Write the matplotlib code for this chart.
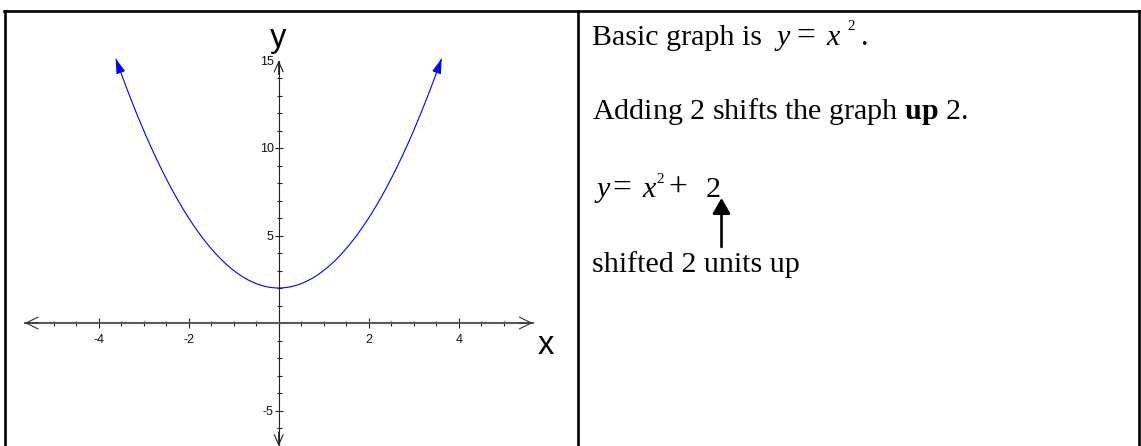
import numpy as np
import matplotlib
matplotlib.use("Agg")
import matplotlib.pyplot as plt
from matplotlib.ticker import FixedLocator, FixedFormatter, NullFormatter

# ---------------- data ----------------
shift = 2                       # y = x^2 + 2
curve_x_end = 3.62              # curve drawn for |x| <= 3.62 (ends near y = 15)
x_axis_range = (-5.64, 5.64)
y_axis_range = (-7.03, 15.0)
x_major_ticks = [-4, -2, 2, 4]
x_tick_labels = ["-4", "-2", "2", "4"]
x_minor_ticks = [-5, -4.5, -3.5, -3, -2.5, -1.5, -1, -0.5, 0, 0.5, 1, 1.5,
                 2.5, 3, 3.5, 4.5, 5]
y_major_ticks = [-5, 5, 10, 15]
y_tick_labels = ["-5", "5", "10", "15"]
y_minor_ticks = [-7, -6, -4, -3, -2, -1, 0, 1, 2, 3, 4, 6, 7, 8, 9, 11, 12, 13, 14]
x_label = "x"
y_label = "y"
line1_text = "Basic graph is"
line2 = r"Adding 2 shifts the graph $\mathbf{up}$ 2."
line4 = "shifted 2 units up"

# ---------------- style ----------------
plt.rcParams["mathtext.fontset"] = "custom"
plt.rcParams["mathtext.rm"] = "Liberation Serif"
plt.rcParams["mathtext.it"] = "Liberation Serif:italic"
plt.rcParams["mathtext.bf"] = "Liberation Serif:bold"
plt.rcParams["axes.unicode_minus"] = False

W, H = 1141, 446
fig = plt.figure(figsize=(W / 100, H / 100), dpi=100)

# pixel geometry of the graph panel
x0_px, ux = 278.7, 45.0
y0_px, uy = 323.0, 17.5
left_px, right_px, top_px, bot_px = 5.0, 577.0, 10.0, 446.0

ax = fig.add_axes([left_px / W, 1 - bot_px / H, (right_px - left_px) / W, (bot_px - top_px) / H])
ax.set_xlim((left_px - x0_px) / ux, (right_px - x0_px) / ux)
ax.set_ylim((y0_px - bot_px) / uy, (y0_px - top_px) / uy)
ax.patch.set_visible(False)
for s in ["top", "right"]:
    ax.spines[s].set_visible(False)
ax.spines["bottom"].set_position(("data", 0))
ax.spines["left"].set_position(("data", 0))
ax.spines["bottom"].set_bounds(*x_axis_range)
ax.spines["left"].set_bounds(*y_axis_range)
ax.spines["bottom"].set_color("#5a5a5a")
ax.spines["bottom"].set_linewidth(1.5)
ax.spines["left"].set_color("#222222")
ax.spines["left"].set_linewidth(0.8)

ax.xaxis.set_major_locator(FixedLocator(x_major_ticks))
ax.xaxis.set_major_formatter(FixedFormatter(x_tick_labels))
ax.xaxis.set_minor_locator(FixedLocator(x_minor_ticks))
ax.xaxis.set_minor_formatter(NullFormatter())
ax.yaxis.set_major_locator(FixedLocator(y_major_ticks))
ax.yaxis.set_major_formatter(FixedFormatter(y_tick_labels))
ax.yaxis.set_minor_locator(FixedLocator(y_minor_ticks))
ax.yaxis.set_minor_formatter(NullFormatter())

ax.tick_params(axis="x", which="major", direction="inout", length=7.2, width=0.8,
               color="#222222", pad=4.6, labelsize=9)
ax.tick_params(axis="x", which="minor", direction="inout", length=3.6, width=0.8,
               color="#222222")
ax.tick_params(axis="y", which="major", direction="inout", length=6.0, width=0.8,
               color="#222222", pad=0.5, labelsize=9)
ax.tick_params(axis="y", which="minor", direction="inout", length=3.6, width=0.8,
               color="#222222")
for lab in ax.get_xticklabels() + ax.get_yticklabels():
    lab.set_family("Liberation Sans")
    lab.set_color("#111111")
ax.yaxis.get_major_ticks()[-1].tick1line.set_visible(False)

# axis arrowheads (open chevrons)
def chevron(tip, back, hl, hw, color, lw):
    ax.annotate("", xy=tip, xytext=back,
                arrowprops=dict(arrowstyle=f"->,head_length={hl},head_width={hw}",
                                color=color, lw=lw, shrinkA=0, shrinkB=0,
                                mutation_scale=10),
                annotation_clip=False)

chevron((x_axis_range[0], 0), (x_axis_range[0] + 0.3, 0), 0.86, 0.43, "#333333", 0.8)
chevron((x_axis_range[1], 0), (x_axis_range[1] - 0.3, 0), 0.86, 0.43, "#333333", 0.8)
chevron((0, y_axis_range[1]), (0, y_axis_range[1] - 0.8), 0.72, 0.32, "#222222", 0.8)
chevron((0, y_axis_range[0]), (0, y_axis_range[0] + 0.8), 0.72, 0.32, "#222222", 0.8)

# the curve y = x^2 + shift
xs = np.linspace(-curve_x_end, curve_x_end, 500)
ys = xs ** 2 + shift
ax.plot(xs, ys, color="#0000ff", lw=0.8, solid_capstyle="butt")
for sgn in (-1, 1):
    xe = sgn * curve_x_end
    xb = sgn * (curve_x_end - 0.06)
    ax.annotate("", xy=(xe, xe ** 2 + shift), xytext=(xb, xb ** 2 + shift),
                arrowprops=dict(arrowstyle="-|>,head_length=0.9,head_width=0.28",
                                color="#0000ff", lw=0.8, shrinkA=0, shrinkB=0,
                                mutation_scale=10),
                annotation_clip=False)

# ---------------- overlay in pixel coordinates ----------------
ov = fig.add_axes([0, 0, 1, 1], zorder=5)
ov.set_xlim(0, W)
ov.set_ylim(H, 0)
ov.axis("off")
ov.patch.set_visible(False)

# axis letters
ov.text(278.5, 47, y_label, family="Liberation Sans", size=23.5, ha="center", va="baseline")
ov.text(545.5, 354, x_label, family="Liberation Sans", size=23.5, ha="center", va="baseline")

# table borders
bw = 1.9
ov.plot([3.5, 1139.5], [10.5, 10.5], color="black", lw=bw, solid_capstyle="projecting")
ov.plot([4.8, 4.8], [10.5, H + 2], color="black", lw=bw)
ov.plot([577.8, 577.8], [10.5, H + 2], color="black", lw=bw)
ov.plot([1139.2, 1139.2], [10.5, H + 2], color="black", lw=bw)

# right panel text
FS = 21.6
tfont = dict(family="Liberation Serif", size=FS, va="baseline", ha="left")
ov.text(592, 45, line1_text, **tfont)
ov.text(592, 119, line2, **tfont)
ov.text(592, 272, line4, **tfont)


def eq_piece(s, x, base, ha="left", italic=False, size=FS):
    ov.text(x, base, s, family="Liberation Serif", size=size, va="baseline", ha=ha,
            style="italic" if italic else "normal")

# y = x^2 .   (first line)
eq_piece("y", 776, 45, italic=True)
eq_piece("=", 806, 45, ha="center", size=FS * 1.12)
eq_piece("x", 826, 45, italic=True)
eq_piece("2", 847, 30, size=FS * 0.5)
eq_piece(".", 861, 45)

# y = x^2 + 2   (third line)
eq_piece("y", 596, 197, italic=True)
eq_piece("=", 622, 197, ha="center", size=FS * 1.12)
eq_piece("x", 642, 197, italic=True)
eq_piece("2", 656, 183, size=FS * 0.5)
eq_piece("+", 678, 197, ha="center", size=FS * 1.12)
eq_piece("2", 706, 197)

ov.annotate("", xy=(721.5, 198), xytext=(721.5, 247),
            arrowprops=dict(arrowstyle="-|>,head_length=0.94,head_width=0.54",
                            color="black", lw=1.9, shrinkA=0, shrinkB=0,
                            mutation_scale=10))

fig.savefig("out.png", dpi=100)
